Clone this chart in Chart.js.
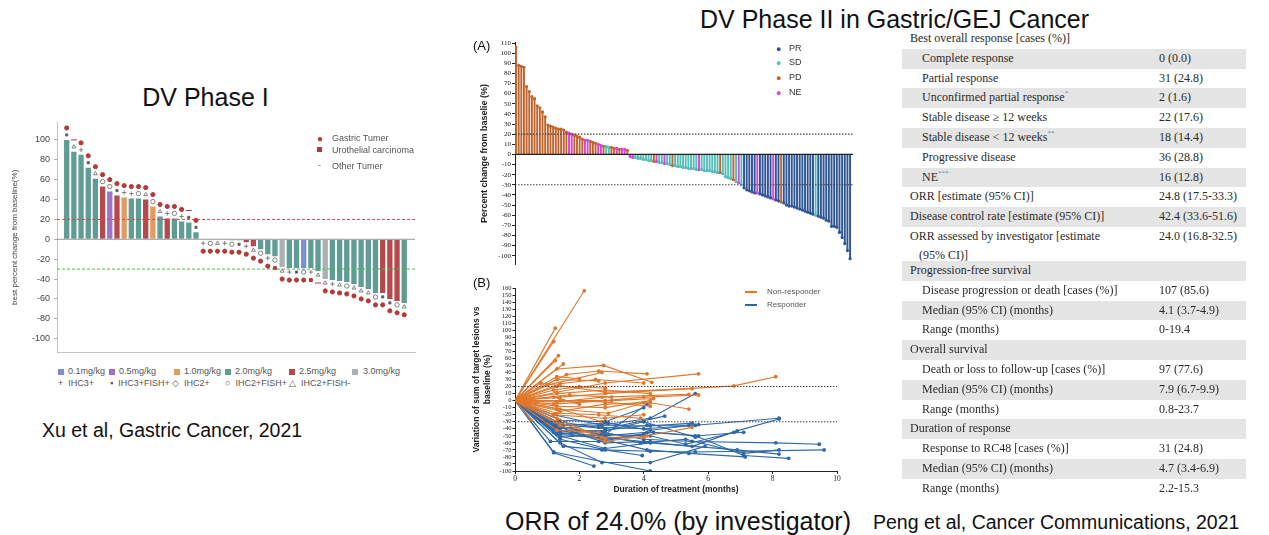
<!DOCTYPE html>
<html><head><meta charset="utf-8">
<script src="https://cdn.jsdelivr.net/npm/chart.js@4.4.0/dist/chart.umd.min.js"></script>
<style>
body{margin:0;width:1269px;height:535px;background:#fff;position:relative;overflow:hidden;font-family:"Liberation Sans",Arial,sans-serif;color:#111;}
.abs{position:absolute;white-space:nowrap;}
canvas{position:absolute;}
.big{font-size:25px;line-height:30px;}
.cite{font-size:19.5px;line-height:24px;}
.lg{font-size:9px;color:#555;line-height:11px;}
.sq{position:absolute;width:6px;height:6px;}
.tbl{position:absolute;left:902px;top:29px;width:344px;font-family:"Liberation Serif","Times New Roman",serif;font-size:12px;color:#2a2a2a;}
.r{position:relative;height:19.8px;line-height:19.8px;}
.r.g{background:#e5e5e5;}
.r .a{position:absolute;left:8px;}
.r .a.i{left:20px;}
.r .b{position:absolute;left:257px;}
.r.tall{height:34px;line-height:18.6px;}
sup{font-size:7px;color:#5b7fc4;vertical-align:6px;line-height:0;}
.sp{font-size:8px;color:#555;line-height:10px;}
</style></head><body>

<div class="abs big" style="left:0;width:411px;text-align:center;top:82px;">DV Phase I</div>
<div class="abs big" style="left:700px;top:4px;">DV Phase II in Gastric/GEJ Cancer</div>
<div class="abs big" style="left:505px;top:506px;">ORR of 24.0% (by investigator)</div>
<div class="abs cite" style="left:42px;top:418px;">Xu et al, Gastric Cancer, 2021</div>
<div class="abs cite" style="left:873px;top:510px;">Peng et al, Cancer Communications, 2021</div>

<canvas id="c1" width="422" height="250" style="left:0;top:112px;"></canvas>
<canvas id="c2" width="390" height="240" style="left:470px;top:30px;"></canvas>
<canvas id="c3" width="390" height="230" style="left:470px;top:270px;"></canvas>

<!-- Phase I legends -->
<div class="abs lg" style="left:317px;top:133px;color:#b23a3a;font-size:10px;">●</div>
<div class="abs lg" style="left:332px;top:133px;">Gastric Tumer</div>
<div class="sq" style="left:317px;top:147px;width:5px;height:5px;background:#b23a3a;"></div>
<div class="abs lg" style="left:332px;top:145px;">Urothelial carcinoma</div>
<div class="abs lg" style="left:318px;top:160px;color:#c04040;">-</div>
<div class="abs lg" style="left:332px;top:161px;">Other Tumer</div>

<div class="sq" style="left:58px;top:369px;background:#7d8fd3;"></div><div class="abs lg" style="left:68px;top:366px;">0.1mg/kg</div>
<div class="sq" style="left:109px;top:369px;background:#9b73c9;"></div><div class="abs lg" style="left:119px;top:366px;">0.5mg/kg</div>
<div class="sq" style="left:174px;top:369px;background:#e39a5d;"></div><div class="abs lg" style="left:184px;top:366px;">1.0mg/kg</div>
<div class="sq" style="left:225px;top:369px;background:#5f9d94;"></div><div class="abs lg" style="left:235px;top:366px;">2.0mg/kg</div>
<div class="sq" style="left:289px;top:369px;background:#b6494b;"></div><div class="abs lg" style="left:299px;top:366px;">2.5mg/kg</div>
<div class="sq" style="left:352px;top:369px;background:#a9b1b1;"></div><div class="abs lg" style="left:363px;top:366px;">3.0mg/kg</div>
<div class="abs lg" style="left:58px;top:378px;">+&nbsp;&nbsp;IHC3+</div>
<div class="abs lg" style="left:110px;top:378px;">▪&nbsp;&nbsp;IHC3+FISH+</div>
<div class="abs lg" style="left:172px;top:378px;">◇&nbsp;&nbsp;IHC2+</div>
<div class="abs lg" style="left:225px;top:378px;">○&nbsp;&nbsp;IHC2+FISH+</div>
<div class="abs lg" style="left:289px;top:378px;">△&nbsp;&nbsp;IHC2+FISH-</div>

<!-- Phase II labels -->
<div class="abs" style="left:473px;top:38px;font-size:13px;">(A)</div>
<div class="abs" style="left:473px;top:275px;font-size:13px;">(B)</div>
<div class="abs" style="left:776px;top:44px;color:#2d5596;font-size:9px;">●</div><div class="abs lg" style="left:789px;top:43px;color:#333;">PR</div>
<div class="abs" style="left:776px;top:58px;color:#56bdb8;font-size:9px;">●</div><div class="abs lg" style="left:789px;top:57px;color:#333;">SD</div>
<div class="abs" style="left:776px;top:73px;color:#c0642d;font-size:9px;">●</div><div class="abs lg" style="left:789px;top:72px;color:#333;">PD</div>
<div class="abs" style="left:776px;top:88px;color:#d943d9;font-size:9px;">●</div><div class="abs lg" style="left:789px;top:87px;color:#333;">NE</div>

<div class="abs" style="left:745px;top:291px;width:12px;height:1.5px;background:#e0782c;"></div><div class="abs sp" style="left:767px;top:287px;">Non-responder</div>
<div class="abs" style="left:745px;top:304px;width:12px;height:1.5px;background:#2f68a8;"></div><div class="abs sp" style="left:767px;top:300px;">Responder</div>

<!-- Table -->
<div class="tbl">
<div class="r"><span class="a">Best overall response [cases (%)]</span></div>
<div class="r g"><span class="a i">Complete response</span><span class="b">0 (0.0)</span></div>
<div class="r"><span class="a i">Partial response</span><span class="b">31 (24.8)</span></div>
<div class="r g"><span class="a i">Unconfirmed partial response<sup>*</sup></span><span class="b">2 (1.6)</span></div>
<div class="r"><span class="a i">Stable disease ≥ 12 weeks</span><span class="b">22 (17.6)</span></div>
<div class="r g"><span class="a i">Stable disease &lt; 12 weeks<sup>**</sup></span><span class="b">18 (14.4)</span></div>
<div class="r"><span class="a i">Progressive disease</span><span class="b">36 (28.8)</span></div>
<div class="r g"><span class="a i">NE<sup>***</sup></span><span class="b">16 (12.8)</span></div>
<div class="r"><span class="a">ORR [estimate (95% CI)]</span><span class="b">24.8 (17.5-33.3)</span></div>
<div class="r g"><span class="a">Disease control rate [estimate (95% CI)]</span><span class="b">42.4 (33.6-51.6)</span></div>
<div class="r tall"><span class="a" style="top:0;">ORR assessed by investigator [estimate<br>&nbsp;&nbsp;&nbsp;(95% CI)]</span><span class="b" style="top:0;">24.0 (16.8-32.5)</span></div>
<div class="r g"><span class="a">Progression-free survival</span></div>
<div class="r"><span class="a i">Disease progression or death [cases (%)]</span><span class="b">107 (85.6)</span></div>
<div class="r g"><span class="a i">Median (95% CI) (months)</span><span class="b">4.1 (3.7-4.9)</span></div>
<div class="r"><span class="a i">Range (months)</span><span class="b">0-19.4</span></div>
<div class="r g"><span class="a">Overall survival</span></div>
<div class="r"><span class="a i">Death or loss to follow-up [cases (%)]</span><span class="b">97 (77.6)</span></div>
<div class="r g"><span class="a i">Median (95% CI) (months)</span><span class="b">7.9 (6.7-9.9)</span></div>
<div class="r"><span class="a i">Range (months)</span><span class="b">0.8-23.7</span></div>
<div class="r g"><span class="a">Duration of response</span></div>
<div class="r"><span class="a i">Response to RC48 [cases (%)]</span><span class="b">31 (24.8)</span></div>
<div class="r g"><span class="a i">Median (95% CI) (months)</span><span class="b">4.7 (3.4-6.9)</span></div>
<div class="r"><span class="a i">Range (months)</span><span class="b">2.2-15.3</span></div>
</div>

<script>
// ---------- Phase I data ----------
const p1Values = [100,88,85,72,61,53,48,44,42,41,41,40,33,23,21,21,18,17,7,0,0,0,0,-1,-1,-3,-7,-10,-15,-17,-28,-29,-29,-29,-29,-32,-40,-41,-42,-43,-45,-48,-50,-54,-54,-60,-62,-64];
const p1Dose = ['2.0','2.0','2.0','2.0','2.0','2.5','0.5','2.5','1.0','2.0','2.0','2.5','1.0','2.0','2.5','2.0','2.0','2.0','2.0','2.0','2.0','2.0','2.0','2.0','2.5','2.5','2.5','2.0','2.0','2.0','3.0','2.0','2.0','0.1','2.0','2.0','3.0','2.0','2.0','2.0','2.0','2.0','2.0','2.0','2.5','2.5','2.5','2.0'];
const p1Ihc = ['*','t','+','*','t','o','o','*','+','+','o','t','o','t','+','o','+','*','*','+','o','t','+','o','*','+','t','o','+','o','t','+','*','o','+','t','t','+','t','o','t','t','t','o','*','*','o','t'];
const p1Tumor = ['G','O','G','G','G','G','G','G','G','G','G','G','G','G','G','G','G','O','G','G','G','G','G','G','G','G','G','G','G','U','G','G','G','G','U','O','G','G','G','G','G','G','G','G','G','G','G','G'];
const p1Ticks = [-100,-80,-60,-40,-20,0,20,40,60,80,100];
const doseLabels = ['0.1','0.5','1.0','2.0','2.5','3.0'];
const doseColorList = ['#7d8fd3','#9b73c9','#e39a5d','#5f9d94','#b6494b','#a9b1b1'];

// ---------- Phase II waterfall data ----------
const p2Values = [106,88,87,86,67,62,57,55,48,46,42,37,29,28,27,26,25,25,24,22,21,20,19,18,17,15,14,14,13,12,11,10,9,8,8,7,7,6,6,5,5,5,4,
 -2,-3,-3,-4,-4,-5,-5,-6,-6,-7,-7,-8,-8,-9,-9,-10,-11,-11,-12,-12,-13,-13,-14,-14,-14,-15,-15,-15,-16,-16,-16,-17,-17,-18,-18,-19,-22,-23,-24,-25,-27,-28,-30,
 -33,-35,-36,-37,-38,-38,-39,-40,-41,-42,-43,-44,-45,-46,-47,-48,-50,-51,-51,-52,-53,-54,-55,-56,-57,-58,-59,-60,-61,-62,-63,-65,-66,-71,-71,-72,-77,-82,-88,-95,-103];
const p2Ticks = [-100,-90,-80,-70,-60,-50,-40,-30,-20,-10,0,10,20,30,40,50,60,70,80,90,100,110];
const p2Status = [];
for (let i=0;i<43;i++) p2Status.push('PD');
for (let i=43;i<86;i++) p2Status.push('SD');
for (let i=86;i<127;i++) p2Status.push('PR');
[20,21,26,27,31,32,38,40,41,43,44,53,56,69,84,91,97].forEach(i=>p2Status[i]='NE');
[34,35].forEach(i=>p2Status[i]='SD');
[52,59,77,82,100].forEach(i=>p2Status[i]='PD');
[113].forEach(i=>p2Status[i]='SD');
const statusColor = {PR:'#2d5596', SD:'#56bdb8', PD:'#c0642d', NE:'#d943d9'};

// ---------- Phase II spider data ----------
const nonResponders = [
 [[0,0],[2.15,156]],
 [[0,0],[1.25,103]],
 [[0,0],[1.2,84]],
 [[0,0],[1.35,64]],
 [[0,0],[1.25,57]],
 [[0,0],[1.5,52]],
 [[0,0],[1.3,45],[2.75,50],[4.25,26]],
 [[0,0],[1.6,37],[2.6,42],[4.1,38]],
 [[0,0],[1.3,34],[2.0,31]],
 [[0,0],[1.4,24],[2.5,30],[4.0,25]],
 [[0,0],[1.3,12],[2.8,25],[5.7,38]],
 [[0,0],[0.8,25],[2.8,12],[5.5,17]],
 [[0,0],[1.4,5],[2.8,10],[6.8,21],[8.1,34]],
 [[0,0],[1.2,-5],[2.8,0],[4.0,5],[5.7,8]],
 [[0,0],[1.3,-2],[2.7,5],[5.4,9]],
 [[0,0],[1.4,-15],[2.8,-5],[4.2,-3],[5.4,-12]],
 [[0,0],[1.2,-20],[2.8,-25],[4.0,-20]],
 [[0,0],[0.5,-28]],
 [[0,0],[1.3,-42],[2.6,-45]],
 [[0,0],[1.4,-35],[2.8,-58],[4.1,-50],[5.5,-38]],
 [[0,0],[1.3,-25],[2.8,-55]],
 [[0,0],[1.3,10],[2.8,15],[4.2,10]],
 [[0,0],[1.2,15],[2.0,20]],
 [[0,0],[1.3,20],[2.8,18]],
 [[0,0],[1.5,0],[3.0,0],[4.3,3]],
 [[0,0],[1.3,-8],[2.8,-10],[4.2,0]],
 [[0,0],[1.4,-12],[2.7,-30]],
 [[0,0],[1.2,5],[2.0,-5]],
 [[0,0],[1.3,-18],[2.6,-20],[3.9,-25]],
 [[0,0],[1.0,22],[2.7,40]],
 [[0,0],[1.3,30],[2.6,28]],
 [[0,0],[1.4,0],[2.8,-2],[4.2,-8]],
 [[0,0],[1.3,-12],[2.9,-18],[4.0,-3]],
 [[0,0],[1.7,8],[3.0,5]],
 [[0,0],[1.3,-30],[2.7,-52],[4.0,-52]]
];
const responders = [
 [[0,0],[1.2,-74],[2.45,-93]],
 [[0,0],[1.2,-73],[4.2,-100]],
 [[0,0],[1.4,-60],[2.7,-88],[4.2,-88],[5.9,-65]],
 [[0,0],[1.4,-55],[2.8,-70],[3.95,-78]],
 [[0,0],[1.3,-45],[2.7,-55],[4.1,-70],[5.4,-75],[7.15,-80]],
 [[0,0],[1.4,-50],[2.8,-68],[4.2,-60],[6.9,-70],[8.2,-76]],
 [[0,0],[1.3,-38],[2.7,-45],[4.0,-55],[5.5,-58],[8.1,-60],[9.45,-62]],
 [[0,0],[1.2,-35],[2.8,-50],[4.1,-45],[5.6,-50],[7.1,-78],[8.5,-82]],
 [[0,0],[1.3,-30],[2.6,-38],[4.0,-40],[5.6,-35],[8.2,-25]],
 [[0,0],[1.4,-42],[2.8,-55],[4.3,-45],[5.7,-50],[7.1,-45]],
 [[0,0],[1.2,-40],[2.7,-35],[4.2,-25],[5.6,10]],
 [[0,0],[1.4,-28],[2.8,-30],[4.0,-10]],
 [[0,0],[1.3,-48],[2.6,-52],[4.0,-58],[5.5,-65],[6.9,-43],[8.2,-26]],
 [[0,0],[1.5,-65],[2.7,-70],[4.2,-72],[5.6,-73],[9.6,-70]],
 [[0,0],[1.3,-33],[2.8,-40],[4.65,-22]],
 [[0,0],[1.4,-52],[2.8,-48],[4.1,-5]],
 [[0,0],[1.2,-20],[2.7,-35],[4.2,-36],[5.5,-32]],
 [[0,0],[1.4,-38],[2.8,-60],[4.2,-58]],
 [[0,0],[1.2,-45],[2.7,-50],[3.9,-60],[5.3,-55],[7.1,-75],[8.2,-70]],
 [[0,0],[1.5,-35],[2.9,-32],[4.2,-42],[5.7,-34]],
 [[0,0],[1.4,-43],[2.8,-43],[4.0,-30],[5.6,-52]],
 [[0,0],[1.1,-58],[2.6,-58],[4.0,-48]],
 [[0,0],[1.3,-36],[2.7,-48],[4.2,-50],[5.3,-62],[6.8,-45]],
 [[0,0],[1.4,-47],[2.8,-42],[4.1,-35],[5.4,-35]]
];

// ---------- helpers ----------
Chart.defaults.animation = false;
Chart.defaults.responsive = false;
Chart.defaults.devicePixelRatio = 1;
Chart.defaults.plugins.legend.display = false;
Chart.defaults.plugins.tooltip.enabled = false;

const refLines = {
  id:'refLines',
  afterDatasetsDraw(chart, args, opts){
    const {ctx, chartArea:a, scales} = chart;
    (opts.lines||[]).forEach(l=>{
      const py = scales.y.getPixelForValue(l.value);
      ctx.save(); ctx.strokeStyle=l.color; ctx.lineWidth=l.width||1; ctx.setLineDash(l.dash||[]);
      ctx.beginPath(); ctx.moveTo(a.left,py); ctx.lineTo(a.right,py); ctx.stroke(); ctx.restore();
    });
  }
};

// ---------- Phase I chart ----------
const ihcStyle = {'+':'cross','*':'rect','d':'rectRot','o':'circle','t':'triangle'};
const tumorStyle = {'G':'circle','U':'rect','O':'line'};
const p1Bars = p1Values.map((v,i)=>({x:i+1,y:v}));
const p1IhcPts = p1Values.map((v,i)=>({x:i+1,y: v>0 ? v+5 : v-4}));
const p1TumPts = p1Values.map((v,i)=>({x:i+1,y: v>0 ? v+12 : v-12}));
new Chart(document.getElementById('c1'), {
  type:'bar',
  data:{datasets:[
    {type:'line', showLine:false, data:p1TumPts, order:0,
     pointStyle:p1Tumor.map(t=>tumorStyle[t]),
     pointRadius:p1Tumor.map(t=>t==='O'?3:2.1),
     pointBackgroundColor:'#b23a3a', pointBorderColor:'#b23a3a', pointBorderWidth:1},
    {type:'line', showLine:false, data:p1IhcPts, order:0,
     pointStyle:p1Ihc.map(t=>ihcStyle[t]),
     pointRadius:p1Ihc.map(t=>t==='*'?1.6:2.2),
     pointBackgroundColor:p1Ihc.map(t=>t==='*'?'#555':'rgba(255,255,255,0)'),
     pointBorderColor:'#666', pointBorderWidth:0.8},
    {data:p1Bars, order:1,
     backgroundColor:p1Dose.map(d=>doseColorList[doseLabels.indexOf(d)]),
     barPercentage:0.74, categoryPercentage:1}
  ]},
  options:{
    layout:{padding:{left:0,top:10,right:7,bottom:5}},
    scales:{
      x:{type:'linear', offset:false, min:-0.35, max:49.5, ticks:{display:false}, grid:{display:false},
         border:{color:'#c4c4c4'}, afterFit(s){s.height=0;}},
      y:{min:-114, max:118, afterFit(s){s.width=57;},
         afterBuildTicks(s){ s.ticks = p1Ticks.map(v=>({value:v})); },
         ticks:{font:{size:9,family:'Liberation Sans'}, color:'#444', padding:4},
         grid:{drawOnChartArea:false, tickLength:3, tickColor:'#aaa'},
         border:{color:'#c4c4c4'},
         title:{display:true, text:'best percent change from baseline(%)', font:{size:8,family:'Liberation Sans'}, color:'#444', padding:{top:10,bottom:0}}}
    },
    plugins:{refLines:{lines:[
      {value:0,color:'#9a9a9a',width:1},
      {value:20,color:'#d94848',width:1,dash:[3,2]},
      {value:-30,color:'#4cb84c',width:1,dash:[3,2]}
    ]}}
  },
  plugins:[refLines]
});

// ---------- Phase II waterfall ----------
const p2Bars = p2Values.map((v,i)=>({x:i+1,y:v}));
new Chart(document.getElementById('c2'), {
  type:'bar',
  data:{datasets:[
    {type:'line', showLine:false, data:p2Bars, order:0,
     pointRadius:1.6, pointBorderWidth:0,
     pointBackgroundColor:p2Status.map(s=>statusColor[s])},
    {data:p2Bars, order:1, backgroundColor:p2Status.map(s=>statusColor[s]),
     barPercentage:0.72, categoryPercentage:1}
  ]},
  options:{
    layout:{padding:{left:0,top:12,right:7,bottom:0}},
    scales:{
      x:{type:'linear', offset:false, min:0.62, max:128.1, display:true, ticks:{display:false}, grid:{display:false},
         border:{display:false}, afterFit(s){s.height=2;}},
      y:{min:-109, max:111, afterFit(s){s.width=45;},
         afterBuildTicks(s){ s.ticks = p2Ticks.map(v=>({value:v})); },
         ticks:{autoSkip:false, font:{size:7,family:'Liberation Serif'}, color:'#222', padding:1},
         grid:{drawOnChartArea:false, tickLength:3, tickColor:'#222'},
         border:{color:'#222', width:1},
         title:{display:true, text:'Percent change from baselie (%)', font:{size:9,weight:'bold',family:'Liberation Sans'}, color:'#222', padding:{top:9,bottom:0}}}
    },
    plugins:{refLines:{lines:[
      {value:0,color:'#222',width:1.4},
      {value:20,color:'#444',width:1.1,dash:[1.5,1.5]},
      {value:-30,color:'#444',width:1.1,dash:[1.5,1.5]}
    ]}}
  },
  plugins:[refLines]
});

// ---------- Phase II spider ----------
function spiderSet(series, color){
  return series.map(s=>({
    type:'line', data:s.map(p=>({x:p[0],y:p[1]})), borderColor:color, backgroundColor:color,
    borderWidth:1.1, tension:0, pointBorderWidth:0, pointBackgroundColor:color,
    pointRadius:ctx=>(ctx.raw && ctx.raw.x===0)?0:1.9
  }));
}
new Chart(document.getElementById('c3'), {
  type:'line',
  data:{datasets:[...spiderSet(nonResponders,'#e0782c'), ...spiderSet(responders,'#2f68a8')]},
  options:{
    layout:{padding:{left:0,top:18,right:23,bottom:2}},
    scales:{
      x:{type:'linear', offset:false, min:0, max:10, afterFit(s){s.height=27;},
         ticks:{stepSize:2, font:{size:7.5,family:'Liberation Serif'}, color:'#222', padding:1},
         grid:{drawOnChartArea:false, tickLength:3, tickColor:'#222'},
         border:{color:'#222'},
         title:{display:true, text:'Duration of treatment (months)', font:{size:8.5,weight:'bold',family:'Liberation Sans'}, color:'#222', padding:{top:0,bottom:3}}},
      y:{min:-100, max:160, afterFit(s){s.width=45;},
         ticks:{stepSize:10, autoSkip:false, font:{size:6.5,family:'Liberation Serif'}, color:'#222', padding:1},
         grid:{drawOnChartArea:false, tickLength:2.5, tickColor:'#222'},
         border:{color:'#222'},
         title:{display:true, text:['Variation of sum of target lesions vs','baseline (%)'], font:{size:8.5,weight:'bold',family:'Liberation Sans'}, color:'#222', padding:{top:2,bottom:0}}}
    },
    plugins:{refLines:{lines:[
      {value:20,color:'#444',width:1.1,dash:[1.5,1.5]},
      {value:-30,color:'#444',width:1.1,dash:[1.5,1.5]}
    ]}}
  },
  plugins:[refLines]
});
</script>
</body></html>
